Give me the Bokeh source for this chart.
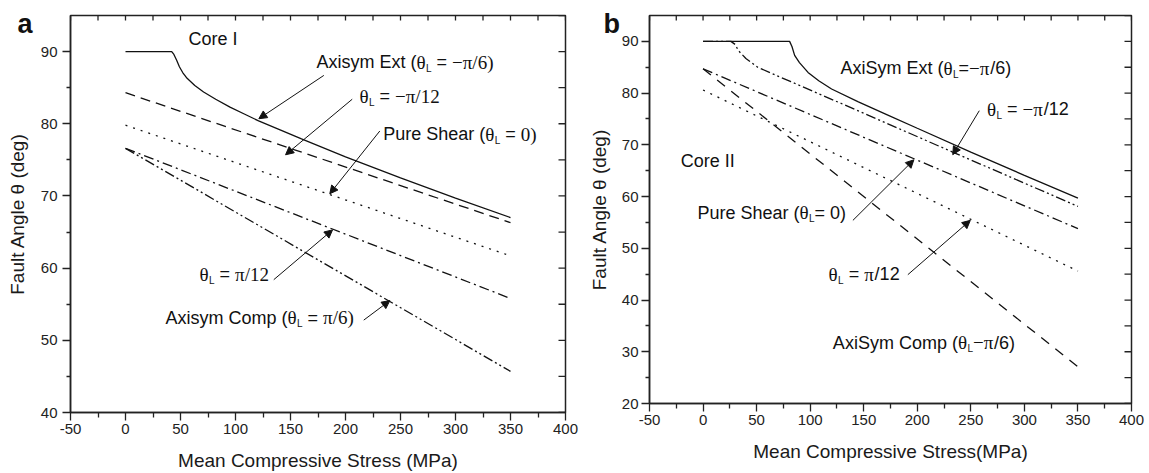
import math
from bokeh.plotting import figure
from bokeh.layouts import row, column
from bokeh.models import Label, Arrow, NormalHead, Range1d, FixedTicker, Title
from bokeh.embed import file_html
from bokeh.resources import INLINE

# ---------------- data ----------------
x_ticks = [-50, 0, 50, 100, 150, 200, 250, 300, 350, 400]
ya_ticks = [40, 50, 60, 70, 80, 90]
yb_ticks = [20, 30, 40, 50, 60, 70, 80, 90]

# Panel a : Core I
a_ext_x = [0, 42, 44, 46.5, 49, 52, 56, 63, 71, 82, 95, 108, 121, 140, 160, 200, 250, 300, 350]
a_ext_y = [90, 90, 89.6, 88.8, 87.9, 87.1, 86.3, 85.3, 84.4, 83.4, 82.3, 81.35, 80.4, 79.2, 77.9, 75.4, 72.5, 69.7, 67.0]
a_m12_x = [0, 350]
a_m12_y = [84.3, 66.3]
a_ps_x = [0, 350]
a_ps_y = [79.8, 61.7]
a_p12_x = [0, 350]
a_p12_y = [76.6, 55.8]
a_comp_x = [0, 350]
a_comp_y = [76.6, 45.7]

# Panel b : Core II
b_ext_x = [0, 80.8, 83, 85.5, 90, 98, 108, 120, 145, 172, 200, 250, 300, 350]
b_ext_y = [90, 90, 89, 87.3, 85.9, 84.0, 82.4, 80.8, 78.3, 75.8, 73.2, 68.6, 64.1, 59.7]
b_m12_x = [0, 26, 30, 33, 40, 51, 82, 120, 170, 233, 300, 350]
b_m12_y = [90, 90, 89.4, 88.2, 86.7, 85.0, 82.2, 78.8, 74.3, 68.6, 62.6, 58.1]
b_ps_x = [0, 350]
b_ps_y = [84.7, 53.8]
b_p12_x = [0, 350]
b_p12_y = [80.6, 45.6]
b_comp_x = [0, 350]
b_comp_y = [84.7, 27.1]

SANS = "Liberation Sans"
SERIF = "Liberation Serif"
INK = "#111111"

SANS_W = {'A': .667, 'x': .5, 'i': .222, 's': .5, 'y': .5, 'm': .833, ' ': .278, 'E': .667,
          't': .278, '(': .333, ')': .333, '=': .584, 'P': .667, 'u': .556, 'r': .333,
          'e': .556, 'S': .667, 'h': .556, 'a': .556, 'C': .722, 'o': .556, 'p': .556,
          'L': .556, '/': .278, '−': .584, 'I': .278, 'n': .556}
SERIF_W = {'θ': .5, 'π': .55, '−': .564, '/': .278, ')': .333, '(': .333, ' ': .25, '=': .564}

LIFT = 6  # pixel correction so the text baseline sits where the reference has it


def width(s, font, size):
    if font == SANS:
        return sum(SANS_W.get(c, .556) for c in s) * size
    return sum(SERIF_W.get(c, .5) for c in s) * size


def rich(p, x, y, pieces, size=18, ssize=19):
    off = 0.0
    for txt, font, kind in pieces:
        if kind == "sub":
            fs, dy = 10, -6
        else:
            fs, dy = (ssize if font == SERIF else size), 0
        lead = len(txt) - len(txt.lstrip())
        shown = txt.strip()
        if shown:
            p.add_layout(Label(x=x, y=y, x_offset=off + width(txt[:lead], font, fs), y_offset=dy + LIFT,
                               text=shown, text_font=font, text_font_size=f"{fs}px",
                               text_baseline="alphabetic", text_align="left", text_color=INK))
        off += width(txt, font, fs)


def arrow(p, x0, y0, x1, y1):
    p.add_layout(Arrow(x_start=x0, y_start=y0, x_end=x1, y_end=y1, line_width=1, line_color=INK,
                       end=NormalHead(size=8, fill_color=INK, line_color=INK, line_width=1)))


def make_fig(width_px, height_px, ymin, yticks, lb, rb, tb, bb, l_std, l_als, b_als, xlabel):
    p = figure(width=width_px, height=height_px, x_range=Range1d(-50, 400), y_range=Range1d(ymin, 95),
               output_backend="svg", toolbar_location=None,
               min_border_left=lb, min_border_right=rb, min_border_top=tb, min_border_bottom=bb)
    p.grid.visible = False
    p.outline_line_color = "#222"
    p.outline_line_width = 1.5
    p.background_fill_color = "white"
    p.border_fill_color = "white"
    x_minor = [t + 25 for t in x_ticks[:-1]]
    y_minor = [t + 5 for t in yticks[:-1]]
    xt = FixedTicker(ticks=x_ticks, minor_ticks=x_minor)
    yt = FixedTicker(ticks=yticks, minor_ticks=y_minor)

    common = dict(axis_line_width=1.5, axis_line_color="#222", major_tick_line_width=1.3,
                  minor_tick_line_width=1.3, major_tick_line_color="#222", minor_tick_line_color="#222",
                  major_label_text_font=SANS, major_label_text_font_size="15px",
                  major_label_text_color="#222", axis_label_text_font=SANS,
                  axis_label_text_font_size="19px", axis_label_text_font_style="normal",
                  axis_label_text_color="#1a1a1a")
    xa = p.xaxis[0]
    xa.ticker = xt
    for k, v in common.items():
        setattr(xa, k, v)
    xa.major_tick_out = 8
    xa.major_tick_in = 0
    xa.minor_tick_out = 5
    xa.minor_tick_in = 0
    xa.major_label_standoff = 3
    xa.major_label_overrides = {-50: "-50"}
    xa.axis_label = xlabel
    xa.axis_label_standoff = b_als

    ya = p.yaxis[0]
    ya.ticker = yt
    for k, v in common.items():
        setattr(ya, k, v)
    ya.major_tick_out = 8
    ya.major_tick_in = 0
    ya.minor_tick_out = 4
    ya.minor_tick_in = 0
    ya.major_label_standoff = l_std
    ya.axis_label = "Fault Angle θ (deg)"
    ya.axis_label_standoff = l_als

    # mirrored inward ticks on the top and right frame edges
    top_x = sorted(x_ticks + x_minor)
    p.ray(x=top_x, y=[95] * len(top_x), length=5, length_units="screen", angle=-math.pi / 2,
          line_color="#222", line_width=1.3)
    right_y = sorted(yticks + y_minor + [95])
    p.ray(x=[400] * len(right_y), y=right_y, length=7, length_units="screen", angle=math.pi,
          line_color="#222", line_width=1.3)
    return p


def letter(p, text, offset):
    kw = dict(text=text, align="left", offset=offset, text_font=SANS, text_font_size="27px",
              text_font_style="bold", text_color=INK)
    try:
        t = Title(standoff=-46, **kw)
    except Exception:
        t = Title(standoff=0, **kw)
    p.title = t


LW = 1.3
# ---------------- panel a ----------------
pa = make_fig(585, 473, 40, ya_ticks, 70, 20, 15, 60, 5, 10, 13, "Mean Compressive Stress (MPa)")
pa.line(a_ext_x, a_ext_y, line_color=INK, line_width=LW)
pa.line(a_m12_x, a_m12_y, line_color=INK, line_width=LW, line_dash="10 6")
pa.line(a_ps_x, a_ps_y, line_color=INK, line_width=LW, line_dash="2 6")
pa.line(a_p12_x, a_p12_y, line_color=INK, line_width=LW, line_dash="10 4 2 4")
pa.line(a_comp_x, a_comp_y, line_color=INK, line_width=LW, line_dash="10 3 2 3 2 3")
letter(pa, "a", -53)

rich(pa, 57.3, 90.9, [("Core I", SANS, "n")])
rich(pa, 173.6, 87.7, [("Axisym Ext (", SANS, "n"), ("θ", SERIF, "n"), ("L", SANS, "sub"),
                       (" = ", SANS, "n"), ("−π/6)", SERIF, "n")])
rich(pa, 212.7, 83.0, [("θ", SERIF, "n"), ("L", SANS, "sub"), (" = ", SANS, "n"), ("−π/12", SERIF, "n")])
rich(pa, 234.3, 77.7, [("Pure Shear (", SANS, "n"), ("θ", SERIF, "n"), ("L", SANS, "sub"),
                       (" = ", SANS, "n"), ("0)", SERIF, "n")])
rich(pa, 67.3, 58.3, [("θ", SERIF, "n"), ("L", SANS, "sub"), (" = ", SANS, "n"), ("π/12", SERIF, "n")])
rich(pa, 36.4, 52.3, [("Axisym Comp (", SANS, "n"), ("θ", SERIF, "n"), ("L", SANS, "sub"),
                      (" = ", SANS, "n"), ("π/6)", SERIF, "n")])
arrow(pa, 180.3, 86.7, 121.2, 80.7)
arrow(pa, 206.1, 83.4, 145.5, 75.7)
arrow(pa, 231.2, 79.0, 185.7, 70.3)
arrow(pa, 134.8, 58.4, 188.2, 65.3)
arrow(pa, 216.6, 52.8, 240.3, 55.5)

# ---------------- panel b ----------------
pb = make_fig(563, 473, 20, yb_ticks, 63, 17, 15, 70, 3, 9, 13, "Mean Compressive Stress(MPa)")
pb.line(b_ext_x, b_ext_y, line_color=INK, line_width=LW)
pb.line(b_m12_x, b_m12_y, line_color=INK, line_width=LW, line_dash="10 3 2 3 2 3")
pb.line(b_ps_x, b_ps_y, line_color=INK, line_width=LW, line_dash="10 4 2 4")
pb.line(b_p12_x, b_p12_y, line_color=INK, line_width=LW, line_dash="2 6")
pb.line(b_comp_x, b_comp_y, line_color=INK, line_width=LW, line_dash="10 8")
letter(pb, "b", -46)

rich(pb, -20.8, 65.7, [("Core II", SANS, "n")])
rich(pb, 128.3, 83.6, [("AxiSym Ext (", SANS, "n"), ("θ", SERIF, "n"), ("L", SANS, "sub"),
                       ("=", SANS, "n"), ("−π", SERIF, "n"), ("/6)", SANS, "n")])
rich(pb, 265.1, 75.7, [("θ", SERIF, "n"), ("L", SANS, "sub"), (" = ", SANS, "n"), ("−π", SERIF, "n"),
                       ("/12", SANS, "n")])
rich(pb, -5.3, 55.7, [("Pure Shear (", SANS, "n"), ("θ", SERIF, "n"), ("L", SANS, "sub"),
                      ("= 0)", SANS, "n")])
rich(pb, 117.2, 43.8, [("θ", SERIF, "n"), ("L", SANS, "sub"), (" = ", SANS, "n"), ("π", SERIF, "n"),
                       ("/12", SANS, "n")])
rich(pb, 121.2, 30.6, [("AxiSym Comp (", SANS, "n"), ("θ", SERIF, "n"), ("L", SANS, "sub"),
                       ("−π", SERIF, "n"), ("/6)", SANS, "n")])
arrow(pb, 257.9, 76.6, 233.1, 68.1)
arrow(pb, 139.9, 55.4, 196.8, 67.1)
arrow(pb, 191.2, 44.9, 249.5, 55.4)

layout = row(column(pa), column(pb))
open("out.html", "w").write(file_html(layout, INLINE))
